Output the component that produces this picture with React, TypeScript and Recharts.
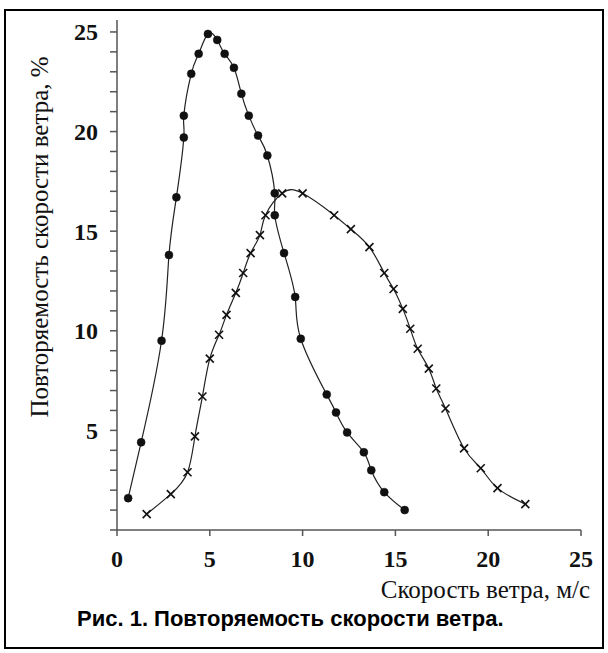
import React from 'react';
import { LineChart, Line, XAxis, YAxis } from 'recharts';

// Series 1 (filled circles)
const speedA = [0.6, 1.3, 2.4, 2.8, 3.2, 3.6, 3.6, 4.0, 4.4, 4.9, 5.4, 5.8, 6.3, 6.7, 7.1, 7.6, 8.1, 8.5, 8.5, 9.0, 9.6, 9.9, 11.3, 11.8, 12.4, 13.3, 13.7, 14.4, 15.5];
const freqA = [1.6, 4.4, 9.5, 13.8, 16.7, 19.7, 20.8, 22.9, 23.9, 24.9, 24.6, 23.9, 23.2, 21.9, 20.8, 19.8, 18.8, 16.9, 15.8, 13.9, 11.7, 9.6, 6.8, 5.9, 4.9, 3.9, 3.0, 1.9, 1.0];

// Series 2 (crosses)
const speedB = [1.6, 2.9, 3.8, 4.2, 4.6, 5.0, 5.5, 5.9, 6.4, 6.8, 7.2, 7.7, 8.0, 8.9, 10.0, 11.7, 12.6, 13.6, 14.4, 14.9, 15.4, 15.8, 16.2, 16.8, 17.2, 17.7, 18.7, 19.6, 20.5, 22.0];
const freqB = [0.8, 1.8, 2.9, 4.7, 6.7, 8.6, 9.8, 10.8, 11.9, 12.9, 13.9, 14.8, 15.8, 16.9, 16.9, 15.8, 15.1, 14.2, 12.9, 12.1, 11.1, 10.1, 9.1, 8.1, 7.1, 6.1, 4.1, 3.1, 2.1, 1.3];

const xTicks = [0, 5, 10, 15, 20, 25];
const yTicks = [0, 1, 2, 3, 4, 5, 6, 7, 8, 9, 10, 11, 12, 13, 14, 15, 16, 17, 18, 19, 20, 21, 22, 23, 24, 25];

const xTitle = 'Скорость ветра, м/с';
const yTitle = 'Повторяемость скорости ветра, %';
const caption = 'Рис. 1. Повторяемость скорости ветра.';

const dataA = speedA.map((x, i) => ({ x, y: freqA[i] }));
const dataB = speedB.map((x, i) => ({ x, y: freqB[i] }));

const CircleDot = (props: any) => {
  const { cx, cy, index } = props;
  if (cx == null || cy == null) return <g key={`c${index}`} />;
  return <circle key={`c${index}`} cx={cx} cy={cy} r={4} fill="#111" stroke="#111" strokeWidth={0.5} />;
};

const CrossDot = (props: any) => {
  const { cx, cy, index } = props;
  if (cx == null || cy == null) return <g key={`x${index}`} />;
  const s = 4;
  return (
    <g key={`x${index}`} stroke="#111" strokeWidth={1.6}>
      <line x1={cx - s} y1={cy - s} x2={cx + s} y2={cy + s} />
      <line x1={cx - s} y1={cy + s} x2={cx + s} y2={cy - s} />
    </g>
  );
};

const tickFont = { fontFamily: '"Liberation Serif", "DejaVu Serif", serif', fontSize: 24, fontWeight: 700, fill: '#111' };

export default function App() {
  return (
    <div style={{ position: 'absolute', left: 0, top: 0, width: 608, height: 653, background: '#fff' }}>
      <LineChart width={608} height={653} margin={{ top: 20, right: 27, left: 57, bottom: 83 }}>
        <XAxis
          type="number"
          dataKey="x"
          domain={[0, 25]}
          ticks={xTicks}
          allowDataOverflow
          stroke="#555"
          strokeWidth={1.5}
          tickSize={6}
          tickMargin={14}
          height={40}
          tick={tickFont}
          tickLine={{ stroke: '#555', strokeWidth: 1.5 }}
        />
        <YAxis
          type="number"
          dataKey="y"
          domain={[0, 25.6]}
          ticks={yTicks}
          interval={0}
          allowDataOverflow
          stroke="#555"
          strokeWidth={1.5}
          tickSize={7}
          tickMargin={12}
          width={60}
          tick={tickFont}
          tickLine={{ stroke: '#555', strokeWidth: 1.5 }}
          tickFormatter={(v: number) => (v > 0 && v % 5 === 0 ? String(v) : '')}
        />
        <Line
          data={dataA}
          dataKey="y"
          type="natural"
          stroke="#222"
          strokeWidth={1.2}
          dot={CircleDot}
          activeDot={false}
          isAnimationActive={false}
        />
        <Line
          data={dataB}
          dataKey="y"
          type="natural"
          stroke="#222"
          strokeWidth={1.2}
          dot={CrossDot}
          activeDot={false}
          isAnimationActive={false}
        />
      </LineChart>
      <svg width={608} height={653} style={{ position: 'absolute', left: 0, top: 0, pointerEvents: 'none' }}>
        <rect x={5} y={10} width={598} height={638} fill="none" stroke="#000" strokeWidth={2} />
        <text
          x={590}
          y={598}
          textAnchor="end"
          fontFamily='"Liberation Serif", "DejaVu Serif", serif'
          fontSize={25}
          fill="#111"
        >
          {xTitle}
        </text>
        <text
          transform="translate(48, 237) rotate(-90)"
          textAnchor="middle"
          fontFamily='"Liberation Serif", "DejaVu Serif", serif'
          fontSize={25}
          fill="#111"
        >
          {yTitle}
        </text>
        <text
          x={77}
          y={626}
          textAnchor="start"
          fontFamily='"Liberation Sans", Arial, sans-serif'
          fontSize={22}
          fontWeight={700}
          fill="#000"
        >
          {caption}
        </text>
      </svg>
    </div>
  );
}
